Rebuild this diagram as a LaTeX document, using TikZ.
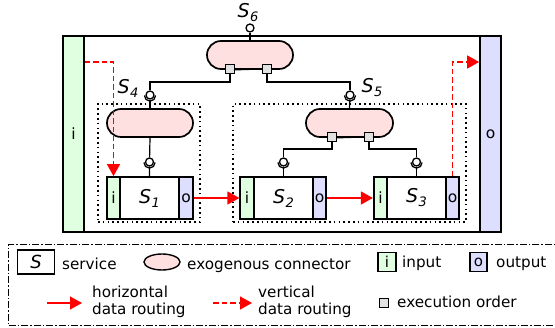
\documentclass[tikz,border=0pt]{standalone}
\usepackage{fontspec}
\setmainfont{DejaVu Sans}
\usetikzlibrary{arrows.meta,shapes.misc,shapes.geometric}
\definecolor{ingreen}{RGB}{224,255,224}
\definecolor{outblue}{RGB}{222,222,255}
\definecolor{pillpink}{RGB}{255,224,224}
\definecolor{ordgray}{RGB}{225,225,225}
\newcommand\Slab[1]{\textit{S}\kern0.5pt\raisebox{-4pt}{\fontsize{13}{13}\selectfont\textit{#1}}}
\tikzset{
  box/.style={draw,line width=1.7pt,inner sep=0pt},
  instrip/.style={box,fill=ingreen,minimum width=13.5pt,minimum height=42pt,font=\fontsize{15.5}{15.5}\selectfont},
  outstrip/.style={box,fill=outblue,minimum width=13.5pt,minimum height=42pt,font=\fontsize{15.5}{15.5}\selectfont},
  body/.style={box,minimum width=59pt,minimum height=42pt,font=\fontsize{19}{19}\selectfont},
  pill/.style={draw,line width=1.7pt,fill=pillpink,rounded rectangle,minimum width=86pt,minimum height=28pt,inner sep=0pt},
  ord/.style={draw,line width=1pt,fill=ordgray,minimum size=9pt,inner sep=0pt},
  sock/.style={circle,draw,line width=1.3pt,fill=white,minimum size=8pt,inner sep=0pt},
  wire/.style={line width=1.2pt},
  dotbox/.style={draw,line width=1.3pt,dash pattern=on 1.6pt off 3.2pt,inner sep=0pt},
  hroute/.style={red,line width=1.4pt,-{Triangle[length=12pt,width=13pt]}},
  vroute/.style={red,line width=1.4pt,dash pattern=on 5.5pt off 3pt,-{Triangle[length=12pt,width=13pt]}},
  lbl/.style={font=\fontsize{19}{19}\selectfont,inner sep=0pt},
  txt/.style={font=\fontsize{15.2}{17}\selectfont,inner sep=0pt,align=left}
}
\begin{document}
\begin{tikzpicture}[x=1pt,y=-1pt]
\useasboundingbox (0,0) rectangle (555,328);
% outer frame
\node[box,minimum width=438pt,minimum height=196pt] (frame) at (282,134) {};
\node[instrip,minimum width=21pt,minimum height=196pt] (IN) at (73.5,134) {i};
\node[outstrip,minimum width=21pt,minimum height=196pt] (OUT) at (490.5,134) {o};
% dotted groups
\node[dotbox,minimum width=102pt,minimum height=118pt] (D1) at (149,163) {};
\node[dotbox,minimum width=233pt,minimum height=118pt] (D2) at (349.5,163) {};
% services
\node[body] (b1) at (149.5,198) {\Slab{1}};
\node[instrip] (i1) at (113.5,198) {i};
\node[outstrip] (o1) at (186,198) {o};
\node[body] (b2) at (283.5,198) {\Slab{2}};
\node[instrip] (i2) at (247,198) {i};
\node[outstrip] (o2) at (319.5,198) {o};
\node[body] (b3) at (416.5,198) {\Slab{3}};
\node[instrip] (i3) at (380.5,198) {i};
\node[outstrip] (o3) at (452.5,198) {o};
% pills
\node[pill] (P6) at (250,55) {};
\node[pill] (P4) at (150,123) {};
\node[pill,minimum width=87pt] (P5) at (349.5,123) {};
% sockets
\node[sock] (s6) at (250,28) {};
\node[sock] (s4) at (150,95) {};
\node[sock] (s5) at (350,95) {};
\node[sock] (s1) at (149.5,162) {};
\node[sock] (s2) at (283.5,162) {};
\node[sock] (s3) at (416.5,162) {};
% labels
\node[lbl] (L6) at (248,13) {\Slab{6}};
\node[lbl] (L4) at (128,88) {\Slab{4}};
\node[lbl] (L5) at (372,88) {\Slab{5}};
% wires
\draw[wire] (s6) -- (P6.north);
\draw[wire] (s4) -- (P4.north);
\draw[wire] (s5) -- (P5.north);
\draw[wire] (P4.south) -- (s1) -- (b1.north);
\draw[wire] (s2) -- (b2.north);
\draw[wire] (s3) -- (b3.north);
\coordinate (j4) at (150,82);
\coordinate (j5) at (350,82);
\coordinate (j2) at (283.5,149);
\coordinate (j3) at (416.5,149);
\node[ord] (q61) at (230,69) {};
\node[ord] (q62) at (267,69) {};
\node[ord] (q51) at (332,137) {};
\node[ord] (q52) at (369,137) {};
\draw[wire] (q61.south) |- (j4) -- (s4);
\draw[wire] (q62.south) |- (j5) -- (s5);
\draw[wire] (q51.south) |- (j2) -- (s2);
\draw[wire] (q52.south) |- (j3) -- (s3);
\draw[wire] (P6.south -| q61.east) -- (q62.west);
\draw[wire] (P5.south -| q51.east) -- (q52.west);
% socket cups
\foreach \s in {s1,s2,s3,s4,s5}{
  \draw[line width=1.3pt] ([xshift=-5.6pt,yshift=-0.5pt]\s.center) arc[start angle=180,end angle=360,radius=5.6pt];
}
% routing
\coordinate (v1) at (114,62);
\draw[vroute] (IN.east |- v1) -| (i1.north);
\draw[vroute] (o3.north) |- (OUT.west |- v1);
\draw[hroute] (o1.east) -- (i2.west);
\draw[hroute] (o2.east) -- (i3.west);
% legend
\node[draw,line width=1pt,dash pattern=on 7pt off 2pt on 1.5pt off 2pt,minimum width=556pt,minimum height=81pt,anchor=north west] (leg) at (8,244) {};
\node[box,line width=1.4pt,minimum width=37pt,minimum height=24pt,font=\fontsize{18}{18}\selectfont] (kS) at (36,262) {\textit{S}};
\node[txt,anchor=base west] (tS) at (62,270) {service};
\node[draw,line width=1.4pt,fill=pillpink,ellipse,minimum width=36pt,minimum height=16pt,inner sep=0pt] (kE) at (162,262) {};
\node[txt,anchor=base west] (tE) at (187,270) {exogenous connector};
\node[box,line width=1.4pt,fill=ingreen,minimum width=18pt,minimum height=19pt,font=\fontsize{15}{15}\selectfont] (kI) at (387,262) {i};
\node[txt,anchor=base west] (tI) at (402,268) {input};
\node[box,line width=1.4pt,fill=outblue,minimum width=17pt,minimum height=19pt,font=\fontsize{15}{15}\selectfont] (kO) at (478.5,262) {o};
\node[txt,anchor=base west] (tO) at (496,268) {output};
\coordinate (ha) at (47,303);
\coordinate (hb) at (82,303);
\draw[hroute] (ha) -- (hb);
\node[txt,anchor=west] (tH) at (92,302) {horizontal\\data routing};
\coordinate (va) at (213,303);
\coordinate (vb) at (252,303);
\draw[vroute] (va) -- (vb);
\node[txt,anchor=west] (tV) at (258,302) {vertical\\data routing};
\node[ord] (kQ) at (384,303) {};
\node[txt,anchor=base west] (tQ) at (397,308) {execution order};
\end{tikzpicture}
\end{document}
